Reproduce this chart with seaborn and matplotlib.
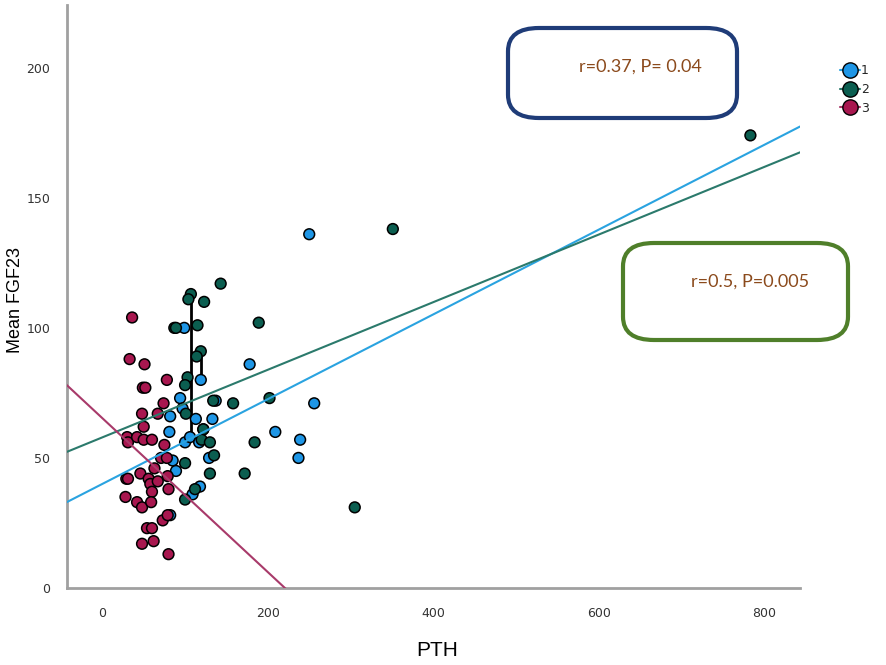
import numpy as np
import pandas as pd
import seaborn as sns
import matplotlib.pyplot as plt
from matplotlib.lines import Line2D
from matplotlib.patches import FancyBboxPatch

# group 1 (blue)
pth_1 = [99, 119, 94, 97, 82, 113, 133, 137, 81, 122, 100, 106, 117, 129, 85, 89,
         118, 109, 82, 178, 209, 239, 237, 256, 250]
fgf_1 = [100, 80, 73, 69, 66, 65, 65, 72, 60, 61, 56, 58, 56, 50, 49, 45,
         39, 36, 28, 86, 60, 57, 50, 71, 136]

# group 2 (green)
pth_2 = [143, 107, 104, 123, 87, 89, 115, 189, 119, 114, 103, 100, 134, 158, 202,
         101, 122, 120, 130, 184, 135, 100, 130, 172, 112, 100, 305, 351, 783]
fgf_2 = [117, 113, 111, 110, 100, 100, 101, 102, 91, 89, 81, 78, 72, 71, 73,
         67, 61, 57, 56, 56, 51, 48, 44, 44, 38, 34, 31, 138, 174]

# group 3 (magenta)
pth_3 = [36, 33, 51, 49, 52, 78, 74, 67, 48, 50, 30, 31, 42, 50, 60, 75, 71, 78,
         63, 79, 29, 31, 46, 56, 58, 67, 60, 80, 28, 42, 48, 59, 73, 79, 54, 60,
         48, 62, 80]
fgf_3 = [104, 88, 86, 77, 77, 80, 71, 67, 67, 62, 58, 56, 58, 57, 57, 55, 50, 50,
         46, 43, 42, 42, 44, 42, 40, 41, 37, 38, 35, 33, 31, 33, 26, 28, 23, 23,
         17, 18, 13]

# fit lines: slope, intercept
fit_slope = {"1": 0.163, "2": 0.130, "3": -0.296}
fit_icpt = {"1": 40.0, "2": 57.9, "3": 65.3}

# the two black connector segments
seg_x = [[107, 107], [119, 119]]
seg_y = [[112, 59], [89, 81]]

ann_1 = "r=0.37, P= 0.04"
ann_2 = "r=0.5, P=0.005"

df = pd.DataFrame({
    "PTH": pth_1 + pth_2 + pth_3,
    "FGF23": fgf_1 + fgf_2 + fgf_3,
    "group": ["1"] * len(pth_1) + ["2"] * len(pth_2) + ["3"] * len(pth_3),
})

pt_colors = {"1": "#1e96e6", "2": "#0b5e50", "3": "#a8174f"}
ln_colors = {"1": "#2aa3e0", "2": "#2b7a6c", "3": "#a83a6a"}

sns.set_style("white")
plt.rcParams['font.family'] = ['Liberation Sans', 'DejaVu Sans']

fig = plt.figure(figsize=(8.86, 6.65), dpi=100)
ax = fig.add_axes([0.0753, 0.1158, 0.8277, 0.8762])

sns.scatterplot(data=df, x="PTH", y="FGF23", hue="group", palette=pt_colors,
                s=60, edgecolor="black", linewidth=1.1, legend=False, ax=ax, zorder=3)

xlim = (-43, 843)
xs = np.array(xlim)
for g in ["1", "2", "3"]:
    ax.plot(xs, fit_slope[g] * xs + fit_icpt[g], color=ln_colors[g], lw=1.5, zorder=4)

for sx, sy in zip(seg_x, seg_y):
    ax.plot(sx, sy, color="black", lw=2, zorder=2)

ax.set_xlim(xlim)
ax.set_ylim(0, 224)
ax.set_xticks([0, 200, 400, 600, 800])
ax.set_yticks([0, 50, 100, 150, 200])
ax.tick_params(length=0, labelsize=9, labelcolor="#333333")
for lab in ax.get_xticklabels() + ax.get_yticklabels():
    lab.set_family(['Liberation Sans Narrow', 'DejaVu Sans'])
ax.tick_params(axis='x', pad=14)
ax.tick_params(axis='y', pad=12)
sns.despine(ax=ax)
for sp in ["left", "bottom"]:
    ax.spines[sp].set_color("#a0a0a0")
    ax.spines[sp].set_linewidth(2)

ax.set_xlabel("")
ax.set_ylabel("")
fig.text(437 / 886, 1 - 651 / 665, "PTH", ha="center", va="center", fontsize=15, color="black")
fig.text(16 / 886, 1 - 300 / 665, "Mean FGF23", ha="center", va="center",
         rotation=90, fontsize=13, color="black")

# annotation boxes (figure coords)
box1 = FancyBboxPatch((508 / 886, 1 - 118 / 665), 229 / 886, 90 / 665,
                      boxstyle="round,pad=0,rounding_size=0.035", transform=fig.transFigure,
                      fc="white", ec="#1f3c78", lw=3, zorder=5)
box2 = FancyBboxPatch((623 / 886, 1 - 340 / 665), 225 / 886, 97 / 665,
                      boxstyle="round,pad=0,rounding_size=0.035", transform=fig.transFigure,
                      fc="white", ec="#4f7f2a", lw=3, zorder=5)
fig.patches.extend([box1, box2])
fig.text(640 / 886, 1 - 67 / 665, ann_1, ha="center", va="center", fontsize=13,
         color="#8b4a1c", family=["Lato", "DejaVu Sans"], zorder=6)
fig.text(750 / 886, 1 - 282 / 665, ann_2, ha="center", va="center", fontsize=13,
         color="#8b4a1c", family=["Lato", "DejaVu Sans"], zorder=6)

handles = [Line2D([], [], color=ln_colors[g], lw=1.5, marker="o", markersize=11,
                  markerfacecolor=pt_colors[g], markeredgecolor="black") for g in ["1", "2", "3"]]
fig.legend(handles, ["1", "2", "3"], loc="upper left", bbox_to_anchor=(0.935, 0.92),
           frameon=False, handlelength=1.6, handletextpad=0.1, labelspacing=0.45,
           prop={"family": ["Liberation Sans Narrow", "DejaVu Sans"], "size": 9})

fig.savefig("out.png", dpi=100)
